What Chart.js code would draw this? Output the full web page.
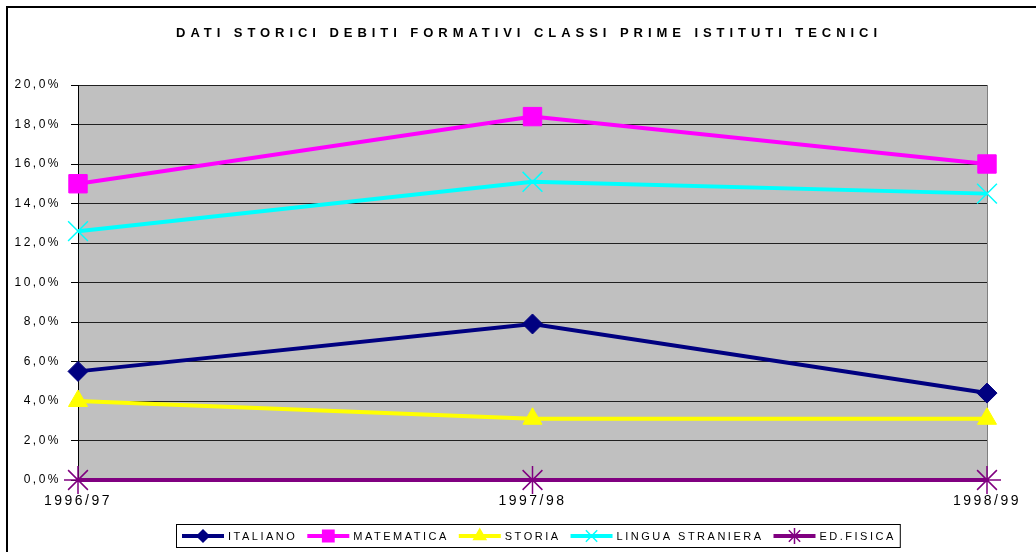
<!DOCTYPE html>
<html>
<head>
<meta charset="utf-8">
<script src="https://cdn.jsdelivr.net/npm/chart.js@4"></script>
<style>
  html, body { margin: 0; padding: 0; background: #fff; }
  #wrap { width: 1036px; height: 552px; position: relative; }
</style>
</head>
<body>
<div id="wrap"><canvas id="chart" width="1036" height="552"></canvas></div>
<script>
// --- DATA ---
const years = ["1996/97", "1997/98", "1998/99"];
const italiano = [5.5, 7.9, 4.4];
const matematica = [15.0, 18.4, 16.0];
const storia = [4.0, 3.1, 3.1];
const linguaStraniera = [12.6, 15.1, 14.5];
const edFisica = [0, 0, 0];

const chartTitle = "DATI STORICI DEBITI FORMATIVI CLASSI PRIME ISTITUTI TECNICI";
const FONT = "'Liberation Sans', Arial, sans-serif";

function series(label, data, color, style, radius, legendRadius) {
  return {
    label: label,
    data: data,
    borderColor: color,
    backgroundColor: color,
    borderWidth: 4,
    pointStyle: style,
    pointRadius: radius,
    pointHoverRadius: radius,
    pointBorderColor: color,
    pointBackgroundColor: color,
    pointBorderWidth: style === "crossRot" || style === "star" ? 1.5 : 1,
    legendRadius: legendRadius,
    clip: false,
    tension: 0,
  };
}

const datasets = [
  series("ITALIANO", italiano, "#000080", "rectRot", 10, 6),
  series("MATEMATICA", matematica, "#FF00FF", "rect", 13, 8),
  series("STORIA", storia, "#FFFF00", "triangle", 11, 7),
  series("LINGUA STRANIERA", linguaStraniera, "#00FFFF", "crossRot", 14, 8),
  series("ED.FISICA", edFisica, "#800080", "star", 14, 8),
];
// later series drawn on top of earlier ones
datasets.forEach((d, i) => (d.order = datasets.length - i));

// --- PLUGINS ---
const spacing = {
  id: "spacing",
  beforeLayout(chart) { chart.ctx.letterSpacing = "2.5px"; },
  beforeDraw(chart) { chart.ctx.letterSpacing = "2.5px"; },
};

const plotBg = {
  id: "plotBg",
  beforeDraw(chart) {
    const { ctx, chartArea: a } = chart;
    ctx.save();
    ctx.fillStyle = "#C0C0C0";
    ctx.fillRect(a.left, a.top, a.right - a.left, a.bottom - a.top);
    ctx.restore();
  },
};

const frame = {
  id: "frame",
  beforeDatasetsDraw(chart) {
    // right border of plot area
    const { ctx, chartArea: a } = chart;
    ctx.save();
    ctx.lineWidth = 1;
    ctx.strokeStyle = "#808080";
    ctx.beginPath();
    ctx.moveTo(a.right + 0.5, a.top);
    ctx.lineTo(a.right + 0.5, a.bottom);
    ctx.stroke();
    ctx.restore();
  },
  afterDraw(chart) {
    const { ctx } = chart;
    ctx.save();
    // outer border (top & left visible)
    ctx.strokeStyle = "#000";
    ctx.lineWidth = 2;
    ctx.beginPath();
    ctx.moveTo(7, 560);
    ctx.lineTo(7, 7);
    ctx.lineTo(1040, 7);
    ctx.stroke();

    // title
    ctx.fillStyle = "#000";
    ctx.font = "bold 13px " + FONT;
    ctx.letterSpacing = "4.95px";
    ctx.textAlign = "center";
    ctx.textBaseline = "middle";
    ctx.fillText(chartTitle, 529, 33);

    // legend
    ctx.font = "11px " + FONT;
    ctx.letterSpacing = "2.5px";
    ctx.textAlign = "left";
    const y = 536;
    let x = 182;
    const items = [];
    chart.data.datasets.forEach((d) => {
      const w = ctx.measureText(d.label).width;
      items.push({ d, x, w });
      x += 42 + 4 + w + 10;
    });
    const right = x - 10 + 4;
    ctx.lineWidth = 1;
    ctx.strokeStyle = "#000";
    ctx.strokeRect(176.5, 524.5, right - 176, 23);
    items.forEach(({ d, x }) => {
      ctx.strokeStyle = d.borderColor;
      ctx.lineWidth = 4;
      ctx.beginPath();
      ctx.moveTo(x, y);
      ctx.lineTo(x + 42, y);
      ctx.stroke();
      ctx.fillStyle = d.borderColor;
      ctx.lineWidth = 1.5;
      Chart.helpers.drawPoint(ctx, {
        pointStyle: d.pointStyle,
        radius: d.legendRadius,
        rotation: 0,
        borderWidth: 1.5,
      }, x + 21, y);
      ctx.fillStyle = "#000";
      ctx.fillText(d.label, x + 46, y + 1);
    });
    ctx.restore();
  },
};

// --- CHART ---
const ctx = document.getElementById("chart").getContext("2d");
new Chart(ctx, {
  type: "line",
  data: { labels: years, datasets: datasets },
  options: {
    responsive: false,
    animation: false,
    layout: { padding: { left: 0, top: 85, right: 49, bottom: 0 } },
    plugins: {
      legend: { display: false },
      title: { display: false },
      tooltip: { enabled: false },
    },
    scales: {
      x: {
        offset: false,
        afterFit: (s) => { s.height = 72; },
        grid: { display: false, drawTicks: false },
        border: { display: false },
        ticks: {
          color: "#000",
          font: { family: FONT, size: 14 },
          padding: 13,
          maxRotation: 0,
          autoSkip: false,
        },
      },
      y: {
        min: 0,
        max: 20,
        afterFit: (s) => { s.width = 78; },
        grid: {
          color: "#202020",
          lineWidth: 1,
          drawTicks: true,
          tickLength: 7,
          tickColor: "#000",
        },
        border: { display: true, color: "#000", width: 1 },
        ticks: {
          stepSize: 2,
          color: "#000",
          font: { family: FONT, size: 12 },
          padding: 10,
          callback: (v) => v.toFixed(1).replace(".", ",") + "%",
        },
      },
    },
  },
  plugins: [spacing, plotBg, frame],
});
</script>
</body>
</html>
